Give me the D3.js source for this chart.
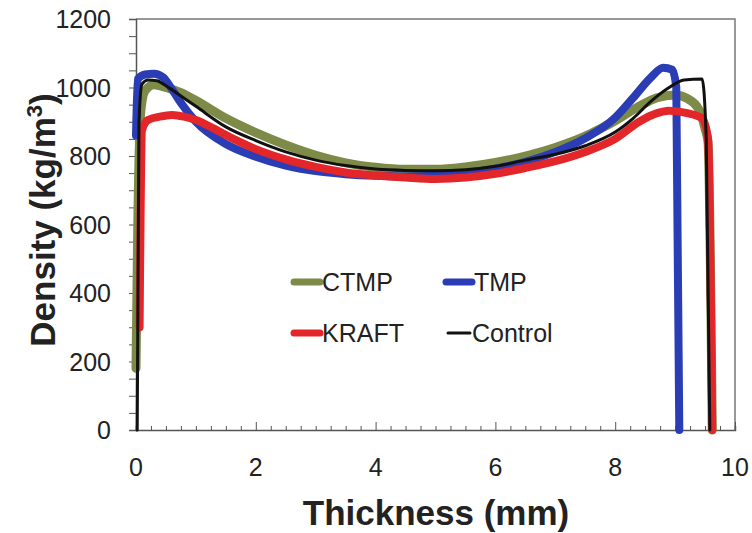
<!DOCTYPE html>
<html>
<head>
<meta charset="utf-8">
<script src="https://cdn.jsdelivr.net/npm/d3@7"></script>
<style>
  body { margin: 0; background: #fff; }
  text { font-family: "Liberation Sans", Arial, sans-serif; fill: #222; }
</style>
</head>
<body>
<script>

// density profiles, [thickness mm, density kg/m3]
var ctmp = [[0.0,180],[0.03,600],[0.08,930],[0.15,990],[0.3,1008],[0.5,1000],[0.75,985],[1.0,962],
  [1.5,910],[2.0,868],[2.5,832],[3.0,802],[3.5,780],[4.0,767],[4.5,761],[5.0,761],[5.5,768],
  [6.0,781],[6.5,800],[7.0,825],[7.5,858],[8.0,903],[8.4,945],[8.7,970],[9.0,978],[9.2,968],
  [9.4,935],[9.5,880],[9.55,840],[9.62,0]];

var tmp = [[0.0,860],[0.03,1025],[0.15,1038],[0.3,1040],[0.45,1030],[0.6,995],[0.75,955],[1.0,900],
  [1.5,835],[2.0,798],[2.5,772],[3.0,756],[3.5,747],[4.0,742],[4.5,740],[5.0,742],[5.5,750],
  [6.0,763],[6.5,783],[7.0,812],[7.5,852],[8.0,912],[8.3,970],[8.6,1030],[8.8,1058],[8.95,1052],
  [9.02,1000],[9.07,0]];

var kraft = [[0.06,300],[0.1,875],[0.2,905],[0.4,915],[0.6,920],[0.8,915],[1.0,905],[1.3,880],
  [1.6,852],[2.0,820],[2.5,790],[3.0,768],[3.5,752],[4.0,743],[4.5,737],[5.0,733],[5.5,737],
  [6.0,748],[6.5,765],[7.0,785],[7.5,812],[8.0,850],[8.4,900],[8.7,925],[8.9,932],[9.2,925],
  [9.45,910],[9.55,850],[9.62,0]];

var control = [[0.02,0],[0.05,900],[0.1,1010],[0.2,1022],[0.35,1020],[0.5,1005],[0.75,975],[1.0,945],
  [1.5,885],[2.0,845],[2.5,812],[3.0,788],[3.5,772],[4.0,762],[4.5,758],[5.0,757],[5.5,760],
  [6.0,770],[6.5,788],[7.0,805],[7.5,830],[8.0,870],[8.3,910],[8.6,960],[8.9,1000],[9.15,1022],
  [9.45,1025],[9.52,850],[9.58,0]];

var seriesNames = ['CTMP', 'TMP', 'KRAFT', 'Control'];
var seriesValues = [ctmp, tmp, kraft, control];

var xTicks = [0, 2, 4, 6, 8, 10];
var yTicks = [0, 200, 400, 600, 800, 1000, 1200];

var width = 752,
    height = 533;

var svg = d3.select('body').append('svg')
    .attr('width', width)
    .attr('height', height);

var x = d3.scaleLinear().domain([0, 10]).range([136, 735]);
var y = d3.scaleLinear().domain([0, 1200]).range([430, 19]);

// line looks
var colors = { CTMP: '#7e8b48', TMP: '#2b3db5', KRAFT: '#e2262a', Control: '#111' };
var widths = { CTMP: 9, TMP: 8, KRAFT: 8, Control: 3 };

// frame - top and right
svg.append('path')
    .attr('d', 'M' + x(0) + ',' + y(1200) + 'H' + x(10) + 'V' + y(0))
    .attr('fill', 'none')
    .attr('stroke', '#777')
    .attr('stroke-width', 1.5);

// y axis, ticks pointing out
var yAxis = svg.append('g')
    .attr('transform', 'translate(' + x(0) + ',0)')
    .call(d3.axisLeft(y).tickValues(d3.range(0, 1201, 50)).tickSize(7).tickFormat(''));
yAxis.select('.domain').attr('stroke', '#555').attr('stroke-width', 1.5);
yAxis.selectAll('.tick line').attr('stroke', '#555');

svg.selectAll('.ylab')
    .data(yTicks)
    .enter()
    .append('text')
    .attr('class', 'ylab')
    .attr('x', 111)
    .attr('y', function(d) { return y(d) + 9; })
    .attr('text-anchor', 'end')
    .style('font-size', '25px')
    .text(function(d) { return d; });

// x axis, ticks pointing in
var xAxis = svg.append('g')
    .attr('transform', 'translate(0,' + y(0) + ')')
    .call(d3.axisTop(x).tickValues(d3.range(0, 10.01, 0.25)).tickSize(4).tickFormat(''));
xAxis.select('.domain').attr('stroke', '#555').attr('stroke-width', 1.5);
xAxis.selectAll('.tick line')
    .attr('stroke', '#555')
    .attr('y2', function(d) { return Math.abs(d % 2) < 0.001 ? -8 : -4; });

svg.selectAll('.xlab')
    .data(xTicks)
    .enter()
    .append('text')
    .attr('class', 'xlab')
    .attr('x', function(d) { return x(d); })
    .attr('y', 476)
    .attr('text-anchor', 'middle')
    .style('font-size', '25px')
    .text(function(d) { return d; });

// axis titles
svg.append('text')
    .attr('x', 436)
    .attr('y', 525)
    .attr('text-anchor', 'middle')
    .style('font-size', '35px')
    .style('font-weight', 'bold')
    .text('Thickness (mm)');

var yTitle = svg.append('text')
    .attr('transform', 'translate(55,220) rotate(-90)')
    .attr('text-anchor', 'middle')
    .style('font-size', '35px')
    .style('font-weight', 'bold');
yTitle.append('tspan').text('Density (kg/m');
yTitle.append('tspan').attr('dy', -13).style('font-size', '22px').text('3');
yTitle.append('tspan').attr('dy', 13).text(')');

// the curves
var line = d3.line()
    .x(function(d) { return x(d[0]); })
    .y(function(d) { return y(d[1]); })
    .curve(d3.curveMonotoneX);

svg.selectAll('.curve')
    .data(seriesNames)
    .enter()
    .append('path')
    .attr('class', 'curve')
    .attr('fill', 'none')
    .attr('stroke', function(d) { return colors[d]; })
    .attr('stroke-width', function(d) { return widths[d]; })
    .attr('stroke-linejoin', 'round')
    .attr('stroke-linecap', 'round')
    .attr('d', function(d, i) { return line(seriesValues[i]); });

// legend, two columns
var legend = svg.selectAll('.leg')
    .data(seriesNames)
    .enter()
    .append('g')
    .attr('class', 'leg')
    .attr('transform', function(d, i) {
      return 'translate(' + (i % 2 ? 446 : 294) + ',' + (i < 2 ? 282 : 333) + ')';
    });

legend.append('line')
    .attr('x1', function(d) { return d == 'Control' ? 2 : 0; })
    .attr('x2', function(d) { return d == 'Control' ? 24 : 26; })
    .attr('stroke', function(d) { return colors[d]; })
    .attr('stroke-width', function(d) { return d == 'Control' ? 3 : 7; })
    .attr('stroke-linecap', 'round');

legend.append('text')
    .attr('x', function(d) { return d == 'Control' ? 26 : 28; })
    .attr('y', 9)
    .style('font-size', '25px')
    .text(function(d) { return d; });

</script>
</body>
</html>
